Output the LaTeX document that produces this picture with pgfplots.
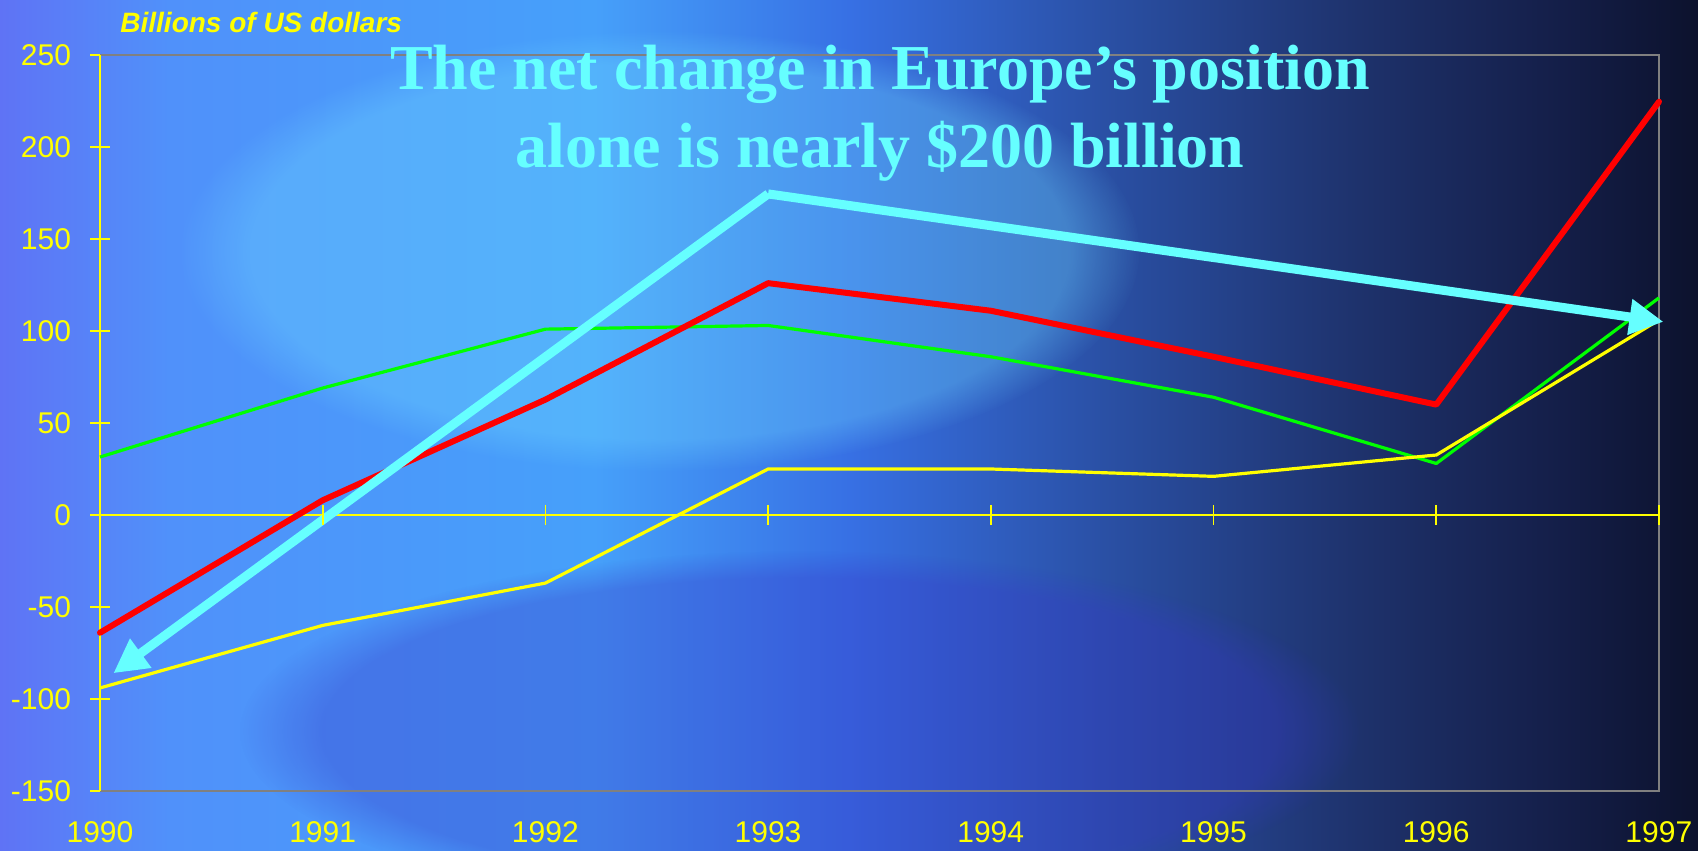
\documentclass[border=0pt]{standalone}
\usepackage{pgfplots}
\pgfplotsset{compat=1.18}
\usepackage{fontspec}
\setmainfont{Liberation Sans}
\newfontfamily\titlefont{Liberation Serif}
\usetikzlibrary{arrows.meta,fadings}
\definecolor{ylw}{RGB}{255,255,0}
\definecolor{cyn}{RGB}{102,255,255}
\definecolor{grn}{RGB}{0,255,0}
\definecolor{frm}{RGB}{128,128,128}
\definecolor{bga}{RGB}{95,115,245}
\definecolor{bgb}{RGB}{80,145,250}
\definecolor{bgc}{RGB}{70,160,250}
\definecolor{bgd}{RGB}{55,112,228}
\definecolor{bge}{RGB}{42,80,165}
\definecolor{bgf}{RGB}{30,50,108}
\definecolor{bgh}{RGB}{20,30,72}
\definecolor{bgg}{RGB}{12,18,45}
\definecolor{glow}{RGB}{110,215,255}
\definecolor{purp}{RGB}{55,55,200}
\pgfdeclarehorizontalshading{bg}{100bp}{
 color(0bp)=(bga);
 color(25bp)=(bga);
 color(30bp)=(bgb);
 color(42.5bp)=(bgc);
 color(50bp)=(bgd);
 color(57.5bp)=(bge);
 color(65bp)=(bgf);
 color(71bp)=(bgh);
 color(75bp)=(bgg);
 color(100bp)=(bgg)}
\pgfplotstableread{
x red green yellow
1990 -64 31.5 -94
1991 8 69 -60
1992 62.7 101 -37
1993 126 103 25
1994 111 86 25
1995 86 64 21
1996 60 28 32.6
1997 224.6 118 106
}\datatable
\begin{document}
\begin{tikzpicture}
\shade[shading=bg] (-50bp,-30bp) rectangle (799bp,395.5bp);
\fill[glow,opacity=0.35,path fading=circle with fuzzy edge 15 percent] (280bp,270bp) ellipse (240bp and 110bp);
\fill[purp,opacity=0.35,path fading=circle with fuzzy edge 15 percent] (350bp,30bp) ellipse (280bp and 90bp);
\begin{axis}[
  at={(0,0)}, anchor=south west,
  scale only axis, width=779.5bp, height=368bp,
  xmin=1990, xmax=1997, ymin=-150, ymax=250,
  clip=false,
  axis line style={draw=none},
  xtick={1990,...,1997},
  xticklabels={1990,1991,1992,1993,1994,1995,1996,1997},
  x tick style={draw=none},
  ytick={-150,-100,...,250},
  ytick pos=left,
  y tick style={ylw, line width=0.8pt},
  tick align=center, major tick length=10bp,
  xticklabel style={font=\fontsize{15bp}{18bp}\selectfont, text=ylw, yshift=-7bp},
  yticklabel style={font=\fontsize{15bp}{18bp}\selectfont, text=ylw, xshift=-6bp},
  /pgf/number format/assume math mode=true,
]
\draw[frm, line width=1pt] (rel axis cs:0,0) -- (rel axis cs:1,0) -- (rel axis cs:1,1) -- (rel axis cs:0,1);
\draw[ylw, line width=0.8pt] (rel axis cs:0,0) -- (rel axis cs:0,1);
\draw[ylw, line width=0.8pt] (axis cs:1990,0) -- (axis cs:1997,0);
\addplot[ylw, only marks, mark=|, mark size=5bp, mark options={line width=0.8pt}] coordinates {(1991,0) (1992,0) (1993,0) (1994,0) (1995,0) (1996,0) (1997,0)};
\addplot[grn, line width=1.6bp, line join=round] table[x=x,y=green] {\datatable};
\addplot[ylw, line width=1.6bp, line join=round] table[x=x,y=yellow] {\datatable};
\addplot[red, line width=3bp, line join=round, line cap=round] table[x=x,y=red] {\datatable};
\addplot[cyn, line width=4.5bp, -{Triangle[length=17bp,width=17bp]}] coordinates {(1993,174.5) (1990.06,-86)};
\addplot[cyn, line width=4.5bp, -{Triangle[length=17bp,width=17bp]}] coordinates {(1993,174.5) (1997.02,105)};
\end{axis}
\node[anchor=base, text=cyn, font=\titlefont\bfseries\fontsize{32bp}{38bp}\selectfont] at (390bp,350.5bp) {The net change in Europe’s position};
\node[anchor=base, text=cyn, font=\titlefont\bfseries\fontsize{32bp}{38bp}\selectfont] at (390bp,311.5bp) {alone is nearly \$200 billion};
\node[anchor=base west, inner sep=0pt, text=ylw, font=\bfseries\itshape\fontsize{14bp}{17bp}\selectfont] at (10bp,379bp) {Billions of US dollars};
\pgfresetboundingbox
\useasboundingbox (-50bp,-30bp) rectangle (799bp,395.5bp);
\end{tikzpicture}
\end{document}
